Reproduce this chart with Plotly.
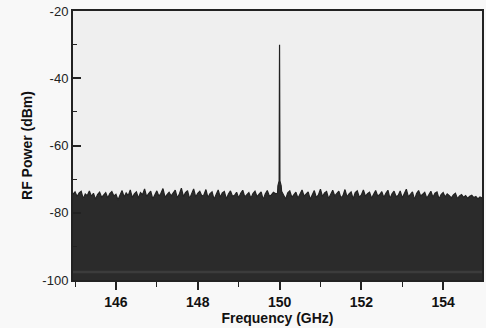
import numpy as np
import plotly.graph_objects as go

# Sweep grid (spectrum-analyser bins) and the noise-floor envelope
sweep_start_ghz = 144.95
sweep_stop_ghz = 154.95
noise_dbm = [
    -74.5,-73.8,-75.2,-74.1,-73.6,-75.8,-74.4,-74.9,-73.5,-75.1,
    -74.2,-76.0,-74.6,-73.9,-75.4,-74.8,-74.0,-75.6,-74.3,-73.7,
    -75.0,-74.5,-76.2,-74.7,-73.4,-75.3,-74.1,-74.9,-73.2,-75.5,
    -74.4,-73.8,-75.7,-74.0,-74.6,-72.9,-75.2,-74.3,-73.6,-75.9,
    -74.8,-73.5,-75.1,-74.2,-72.8,-75.4,-74.6,-73.9,-75.0,-74.1,
    -73.3,-75.6,-74.4,-72.7,-75.2,-74.0,-73.4,-75.8,-74.5,-72.9,
    -75.3,-74.2,-73.6,-75.0,-74.7,-73.1,-75.5,-74.3,-73.8,-76.0,
    -74.6,-73.2,-75.4,-74.1,-73.7,-75.9,-74.4,-73.5,-75.1,-74.8,
    -73.9,-75.6,-74.2,-73.3,-75.3,-74.6,-74.0,-75.7,-74.3,-73.6,
    -75.2,-74.5,-73.8,-76.1,-74.4,-73.4,-75.0,-74.7,-73.9,-74.3,
    -74.2,-75.3,-73.6,-74.8,-75.9,-74.1,-73.5,-75.4,-74.6,-73.9,
    -75.7,-74.3,-73.2,-75.1,-74.5,-73.8,-76.0,-74.4,-73.4,-75.5,
    -74.7,-73.0,-75.2,-74.1,-73.7,-75.8,-74.6,-73.3,-75.0,-74.2,
    -73.6,-75.6,-74.9,-73.1,-75.3,-74.4,-73.8,-75.9,-74.0,-73.5,
    -75.4,-74.7,-73.2,-75.1,-74.3,-73.9,-75.7,-74.5,-73.4,-75.0,
    -74.6,-73.7,-75.5,-74.2,-73.3,-75.8,-74.4,-73.6,-75.2,-74.9,
    -73.5,-75.6,-74.1,-73.0,-75.3,-74.7,-73.8,-76.1,-74.3,-73.4,
    -75.0,-74.5,-73.9,-75.7,-74.8,-73.6,-75.4,-74.2,-73.8,-75.9,
    -74.6,-74.0,-75.3,-74.4,-74.9,-75.6,-74.7,-74.2,-75.8,-75.0,
    -74.6,-75.4,-74.9,-75.7,-75.1,-74.8,-75.5,-75.2,-75.9,-75.3,-75.6,
]
noise_freq_ghz = np.linspace(sweep_start_ghz, sweep_stop_ghz, len(noise_dbm))

# Carrier at 150 GHz with its small pedestal
peak_freq_ghz = [149.96, 149.975, 149.99, 149.997, 150.0, 150.003, 150.01, 150.025, 150.04]
peak_dbm = [-72.0, -71.0, -70.5, -40.0, -30.0, -40.0, -70.5, -71.0, -72.0]

floor_dbm = -100.0
stripe_dbm = -97.6

x_ticks = [146, 148, 150, 152, 154]
y_ticks = [-100, -80, -60, -40, -20]
y_ticktext = ["-100", "-80", "-60", "-40", "-20"]

# merge noise and carrier, keeping sweep order
pts = sorted(
    [(f, v) for f, v in zip(noise_freq_ghz, noise_dbm) if not (149.955 < f < 150.045)]
    + list(zip(peak_freq_ghz, peak_dbm))
)
trace_x = [p[0] for p in pts]
trace_y = [p[1] for p in pts]

fig = go.Figure()
fig.add_trace(go.Scatter(x=[sweep_start_ghz, sweep_stop_ghz], y=[floor_dbm, floor_dbm],
                         mode="lines", line=dict(width=0, color="#2b2b2b"),
                         showlegend=False, hoverinfo="skip"))
fig.add_trace(go.Scatter(x=trace_x, y=trace_y, mode="lines", fill="tonexty",
                         fillcolor="#2b2b2b", line=dict(color="#222222", width=1.2),
                         showlegend=False))
fig.add_trace(go.Scatter(x=[sweep_start_ghz, sweep_stop_ghz], y=[stripe_dbm, stripe_dbm],
                         mode="lines", line=dict(color="#3c3c3c", width=2.5),
                         showlegend=False, hoverinfo="skip"))

fig.update_layout(
    width=486, height=328,
    margin=dict(l=73, r=2, t=11, b=48),
    paper_bgcolor="#f8f8f8",
    plot_bgcolor="#efefef",
    font=dict(family="Liberation Sans, Arial, sans-serif", color="#111111"),
)
fig.update_xaxes(
    range=[sweep_start_ghz, sweep_stop_ghz],
    tickvals=x_ticks, ticks="outside", ticklen=8, tickwidth=1.5, tickcolor="#222",
    minor=dict(dtick=1, tick0=145, ticks="outside", ticklen=5, tickwidth=1.2, tickcolor="#222"),
    showline=True, linecolor="#222", linewidth=2, mirror=True,
    showgrid=False, zeroline=False,
    tickfont=dict(size=14, family="Liberation Sans, Arial", color="#111", weight="bold"),
    title=dict(text="<b>Frequency (GHz)</b>", font=dict(size=14, color="#111"), standoff=4),
)
fig.update_yaxes(
    range=[-100, -20],
    tickvals=y_ticks, ticktext=y_ticktext, ticks="inside", ticklen=8, tickwidth=1.5, tickcolor="#222",
    minor=dict(dtick=10, tick0=-100, ticks="inside", ticklen=4, tickwidth=1.2, tickcolor="#222"),
    showline=True, linecolor="#222", linewidth=2, mirror=True,
    showgrid=False, zeroline=False,
    tickfont=dict(size=13, color="#222"),
    title=dict(text="<b>RF Power (dBm)</b>", font=dict(size=14, color="#111"), standoff=6),
)

fig.write_html("out.html")
